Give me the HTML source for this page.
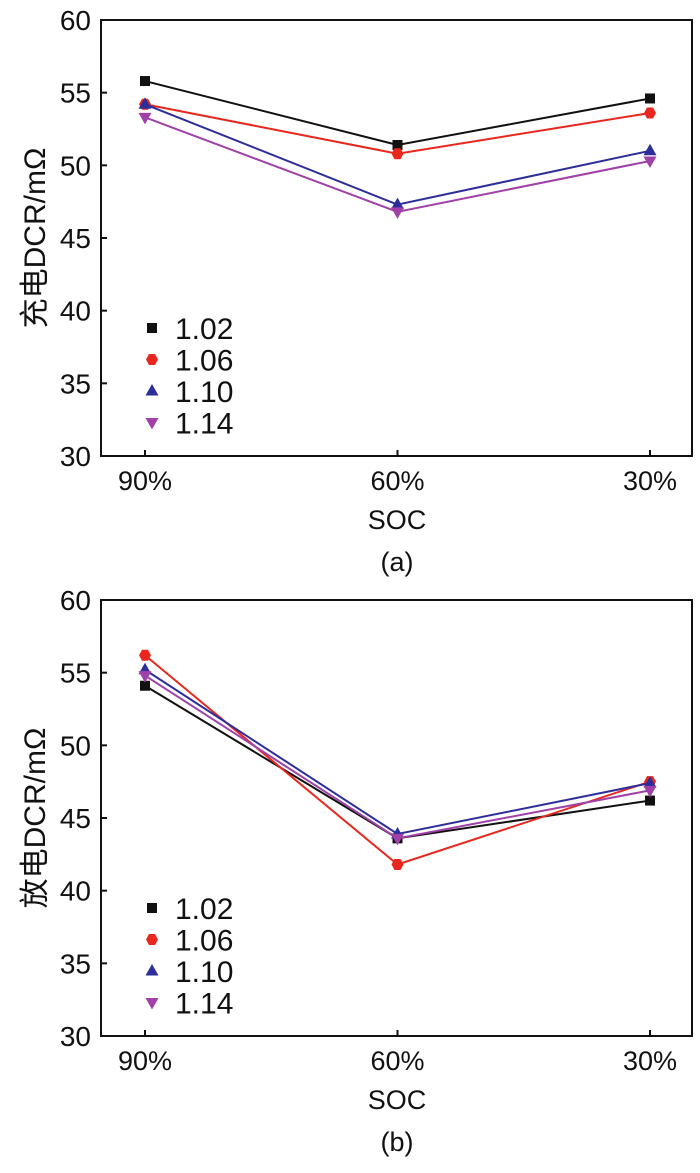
<!DOCTYPE html>
<html><head><meta charset="utf-8"><style>
body{margin:0;background:#fff;width:700px;height:1168px;overflow:hidden}
svg text{font-family:"Liberation Sans","Noto Sans CJK SC",sans-serif;fill:#111}
</style></head><body>
<svg id="svg" width="700" height="1168"></svg>
<script>
const categories=["90%","60%","30%"];
const seriesNames=["1.02","1.06","1.10","1.14"];
const chargeValues=[[55.8,51.4,54.6],[54.2,50.8,53.6],[54.2,47.3,51.0],[53.3,46.8,50.3]];
const dischargeValues=[[54.1,43.6,46.2],[56.2,41.8,47.5],[55.2,43.9,47.4],[54.8,43.6,46.9]];
const yTicks=[30,35,40,45,50,55,60];
const colors=["#111","#e8281e","#2e2e9a","#a040a8"];
const NS="http://www.w3.org/2000/svg";
const svg=document.getElementById('svg');
function mk(t,a,p){const e=document.createElementNS(NS,t);for(const k in a)e.setAttribute(k,a[k]);(p||svg).appendChild(e);return e;}
function marker(g,k,x,y,c){
 if(k===0)return mk('rect',{x:x-5,y:y-5,width:10,height:10,fill:c},g);
 if(k===1)return mk('polygon',{points:`${x-3},${y-5.5} ${x+3},${y-5.5} ${x+6},${y} ${x+3},${y+5.5} ${x-3},${y+5.5} ${x-6},${y}`,fill:c},g);
 if(k===2)return mk('polygon',{points:`${x},${y-7} ${x+6.5},${y+4.5} ${x-6.5},${y+4.5}`,fill:c},g);
 return mk('polygon',{points:`${x},${y+7} ${x+6.5},${y-4.5} ${x-6.5},${y-4.5}`,fill:c},g);
}
function chart(top,values,ylab,cap,name){
 const g=mk('g',{});
 
 
 const L=101,R=692,T=top,B=top+436;
 const ys=v=>B-(v-30)/30*(B-T);
 const xs=i=>145+i*252.5;
 const f=mk('rect',{x:L,y:T,width:R-L,height:B-T,fill:'none',stroke:'#111','stroke-width':2},g);
 
 yTicks.forEach(v=>{const y=ys(v);
  mk('line',{x1:L,x2:L+6,y1:y,y2:y,stroke:'#111','stroke-width':2},g);
  const t=mk('text',{x:L-10,y:y+10,'text-anchor':'end','font-size':28},g);t.textContent=v;
  });
 categories.forEach((c,i)=>{const x=xs(i);
  mk('line',{x1:x,x2:x,y1:B,y2:B-6,stroke:'#111','stroke-width':2},g);
  const t=mk('text',{x:x,y:B+34,'text-anchor':'middle','font-size':27},g);t.textContent=c;
  });
 const xt=mk('text',{x:397,y:B+73,'text-anchor':'middle','font-size':27},g);xt.textContent='SOC';
 
 const ct=mk('text',{x:397,y:B+115,'text-anchor':'middle','font-size':27},g);ct.textContent=cap;
 
 const yt=mk('text',{x:0,y:0,'text-anchor':'middle','font-size':30,transform:`translate(45,${(T+B)/2}) rotate(-90)`},g);yt.textContent=ylab;
 
 values.forEach((s,k)=>{
  const pl=mk('polyline',{points:s.map((v,i)=>xs(i)+','+ys(v)).join(' '),fill:'none',stroke:colors[k],'stroke-width':2},g);
  
  s.forEach((v,i)=>{const m=marker(g,k,xs(i),ys(v),colors[k]);
   });
  const ly=T+308+k*31.5;
  const lm=marker(g,k,152,ly,colors[k]);
  
  const lt=mk('text',{x:175,y:ly+11,'font-size':30},g);lt.textContent=seriesNames[k];
  
 });
}
chart(20,chargeValues,'充电DCR/mΩ','(a)','charge-dcr-chart');
chart(600,dischargeValues,'放电DCR/mΩ','(b)','discharge-dcr-chart');
</script>
</body></html>
